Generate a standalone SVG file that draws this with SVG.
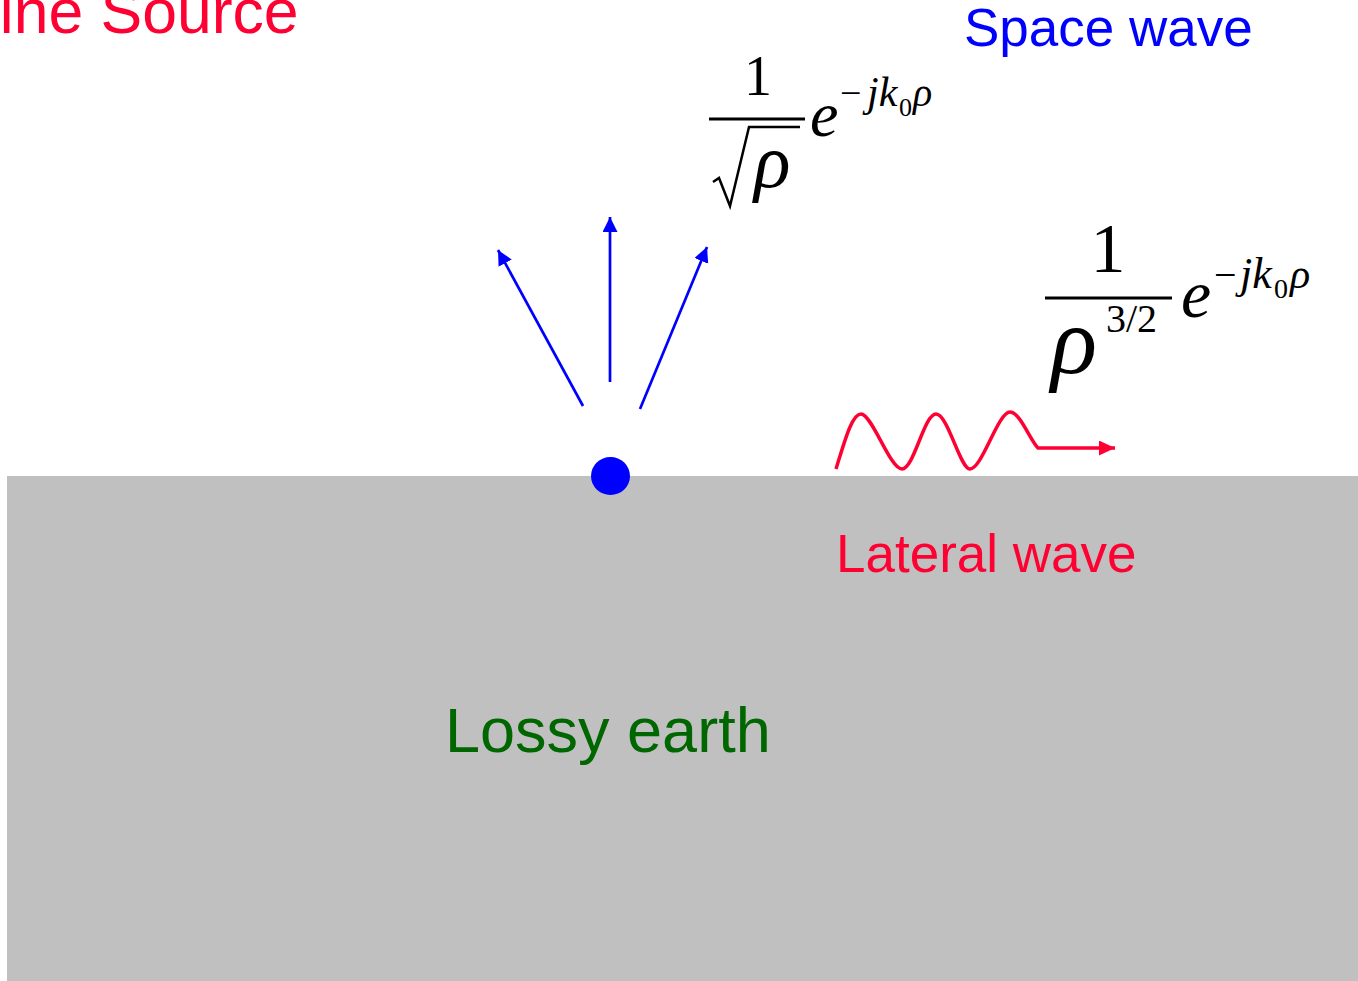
<svg xmlns="http://www.w3.org/2000/svg" width="1358" height="981" viewBox="0 0 1358 981">
<style>
.sans{font-family:"Liberation Sans",Arial,sans-serif;}
.serif{font-family:"Liberation Serif","Times New Roman",serif;fill:#000;}
.it{font-style:italic;}
.blue{stroke:#0000ff;stroke-width:2.7;fill:none;}
</style>
<defs>
<marker id="ab" markerUnits="userSpaceOnUse" markerWidth="16" markerHeight="16" refX="15" refY="7.5" orient="auto">
<path d="M0,0 L15,7.5 L0,15 z" fill="#0000ff"/>
</marker>
<marker id="ar" markerUnits="userSpaceOnUse" markerWidth="17" markerHeight="16" refX="16" refY="7.5" orient="auto">
<path d="M0,0 L16,7.5 L0,15 z" fill="#ff0033"/>
</marker>
</defs>
<rect width="1358" height="981" fill="#ffffff"/>
<g id="earth">
<rect x="7" y="476" width="1351" height="505" fill="#c0c0c0"/>
<text class="sans" x="445" y="752" font-size="63" fill="#006600">Lossy earth</text>
</g>
<g id="title">
<text class="sans" x="-35" y="33" font-size="62.5" fill="#ff0033">Line Source</text>
</g>
<g id="source">
<ellipse cx="610.5" cy="476" rx="19.5" ry="19" fill="#0000ff"/>
</g>
<g id="connectors">
<line class="blue" x1="583" y1="406" x2="498" y2="250" marker-end="url(#ab)"/>
<line class="blue" x1="610" y1="382" x2="610" y2="217" marker-end="url(#ab)"/>
<line class="blue" x1="640" y1="409" x2="707" y2="247" marker-end="url(#ab)"/>
<path d="M836,469 C845,440 852,414 861,414 C872,414 890,469 902,469 C914,469 924,414 936,414 C948,414 960,469 970,469 C982,469 998,412 1010,412 C1020,412 1030,440 1038,448 L1115,448" fill="none" stroke="#ff0033" stroke-width="3.5" marker-end="url(#ar)"/>
</g>
<g id="space-wave">
<text class="sans" x="964" y="46" font-size="53" fill="#0000ff">Space wave</text>
<g id="formula1">
<text class="serif" x="758" y="95" font-size="56" text-anchor="middle">1</text>
<line x1="709" y1="119" x2="805" y2="119" stroke="#000" stroke-width="3"/>
<path d="M713,182 L719,178 L730,206 L749,127 L800,127" fill="none" stroke="#000" stroke-width="2.5"/>
<text class="serif it" x="754" y="187" font-size="76">ρ</text>
<text class="serif it" x="810" y="136" font-size="64">e</text>
<text class="serif" x="840" y="106" font-size="38">−</text>
<text class="serif it" x="867" y="106" font-size="42">jk</text>
<text class="serif" x="899" y="116" font-size="26">0</text>
<text class="serif it" x="913" y="106" font-size="40">ρ</text>
</g>
</g>
<g id="lateral-wave">
<text class="sans" x="836" y="572" font-size="53" fill="#ff0033">Lateral wave</text>
<g id="formula2">
<text class="serif" x="1108" y="272" font-size="70" text-anchor="middle">1</text>
<line x1="1045" y1="298" x2="1172" y2="298" stroke="#000" stroke-width="3"/>
<text class="serif it" x="1051" y="373" font-size="96">ρ</text>
<text class="serif" x="1106" y="332" font-size="40">3/2</text>
<text class="serif it" x="1181" y="317" font-size="68">e</text>
<text class="serif" x="1214" y="288" font-size="40">−</text>
<text class="serif it" x="1240" y="288" font-size="44">jk</text>
<text class="serif" x="1274" y="298" font-size="28">0</text>
<text class="serif it" x="1290" y="288" font-size="42">ρ</text>
</g>
</g>
</svg>
